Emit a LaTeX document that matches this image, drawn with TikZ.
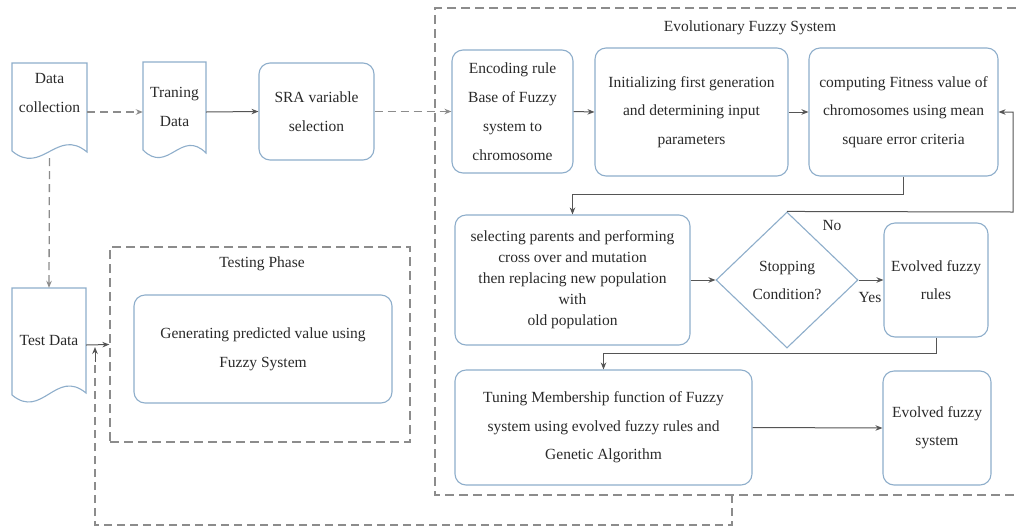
\documentclass[tikz,border=0pt]{standalone}
\usepackage{fontspec}
\setmainfont{Liberation Serif}
\newfontfamily\tms{Liberation Serif}
\usetikzlibrary{shapes.geometric,arrows.meta}
\definecolor{bx}{HTML}{8EAECB}
\definecolor{ln}{HTML}{555555}
\definecolor{dsh}{HTML}{8C8C8C}
\definecolor{tx}{HTML}{2A2A2A}
\begin{document}
\begin{tikzpicture}[x=1pt,y=-1pt,
  font=\tms\fontsize{15.5}{29}\selectfont, text=tx,
  box/.style={draw=bx, line width=1.1pt, rounded corners=11pt, align=center, inner sep=0pt},
  docl/.style={draw=bx, line width=1.1pt},
  ghost/.style={draw=none, inner sep=0pt},
  txt/.style={align=center, inner sep=0pt},
  conn/.style={draw=ln, line width=1pt, -{Stealth[length=7pt,width=5.5pt]}},
  dconn/.style={draw=dsh, line width=1.3pt, dash pattern=on 8pt off 5pt, -{Stealth[length=7pt,width=5.5pt]}},
  dline/.style={draw=dsh, line width=1.3pt, dash pattern=on 8pt off 5pt},
  frame/.style={draw=dsh, line width=1.3pt, dash pattern=on 9pt off 5pt}]
\useasboundingbox[fill=white] (0,0) rectangle (1016,528);

% ---------- document shapes ----------
\draw[docl] (12,151) -- (12,63) -- (87,63) -- (87,152) .. controls (57,127) and (42,176) .. (12,151);
\node[ghost, minimum width=75pt, minimum height=98pt] (dcb) at (49.5,112) {};
\node[txt] (dct) at (49.5,93) {Data\\collection};

\draw[docl] (143,150) -- (143,62) -- (206,62) -- (206,153) .. controls (181,128) and (168,175) .. (143,150);
\node[ghost, minimum width=63pt, minimum height=100pt] (trb) at (174.5,112) {};
\node[txt] (trt) at (174.5,107) {Traning\\Data};

\draw[docl] (12,395) -- (12,288) -- (86,288) -- (86,393) .. controls (56,368) and (42,420) .. (12,395);
\node[ghost, minimum width=74pt, minimum height=114pt] (tdb) at (49,345) {};
\node[txt] (tdt) at (49,340) {Test Data};

% ---------- left boxes ----------
\node[box, minimum width=115pt, minimum height=97pt] (sra) at (316.5,111.5) {SRA variable\\selection};

% testing phase frame
\node[frame, minimum width=300pt, minimum height=195pt, inner sep=0pt] (testing) at (260,344.5) {};
\node[txt] (testt) at (262,264) {Testing Phase};
\node[box, minimum width=258pt, minimum height=108pt] (gen) at (263,349) {Generating predicted value using\\Fuzzy System};

% ---------- evolutionary frame ----------
\draw[frame] (1030,8) -- (435,8) -- (435,495) -- (1030,495);
\node[txt] (evot) at (750,28) {Evolutionary Fuzzy System};

\node[box, minimum width=121pt, minimum height=123pt] (enc) at (512.5,111.5) {Encoding rule\\Base of Fuzzy\\system to\\chromosome};
\node[box, minimum width=193pt, minimum height=128pt, font=\tms\fontsize{15.5}{28.5}\selectfont] (init) at (691.5,112) {Initializing first generation\\and determining input\\parameters};
\node[box, minimum width=189pt, minimum height=128pt, font=\tms\fontsize{15.5}{28.5}\selectfont] (comp) at (903.5,112) {computing Fitness value of\\chromosomes using mean\\square error criteria};
\node[box, minimum width=235pt, minimum height=130pt, font=\tms\fontsize{15.5}{21}\selectfont] (sel) at (572.5,280) {selecting parents and performing\\cross over and mutation\\then replacing new population\\with\\old population};
\node[draw=bx, line width=1.1pt, diamond, aspect=1.04, minimum width=142pt, minimum height=136pt, inner sep=0pt, align=center, font=\tms\fontsize{15.5}{28}\selectfont] (dia) at (787,280) {Stopping\\Condition?};
\node[box, minimum width=104pt, minimum height=114pt, font=\tms\fontsize{15.5}{28}\selectfont] (rules) at (936,280) {Evolved fuzzy\\rules};
\node[box, minimum width=297pt, minimum height=115pt, font=\tms\fontsize{15.5}{28.5}\selectfont] (tun) at (603.5,427.5) {Tuning Membership function of Fuzzy\\system using evolved fuzzy rules and\\Genetic Algorithm};
\node[box, minimum width=108pt, minimum height=114pt, font=\tms\fontsize{15.5}{28}\selectfont] (sys) at (937,428) {Evolved fuzzy\\system};

\node[txt] (nolab) at (832,225) {No};
\node[txt] (yeslab) at (870,297) {Yes};

% ---------- connectors ----------
\coordinate (dcs) at (49.5,158);
\draw[dconn] (dcb.east) -- (trb.west);
\draw[conn] (trb.east) -- (sra.west);
\draw[dconn] (sra.east) -- (enc.west);
\draw[conn] (enc.east) -- (init.west);
\draw[conn] (init.east) -- (comp.west);
\draw[conn] (comp.south) -- ++(0,18) -| (sel.north);
\draw[conn] (sel.east) -- (dia.west);
\coordinate (rtop) at (1013,212);
\draw[conn] (dia.north) -- (rtop) |- (comp.east);
\draw[conn] (dia.east) -- (rules.west);
\draw[conn] (rules.south) -- ++(0,16) -| (tun.north);
\draw[conn] (tun.east) -- (sys.west);
\draw[dconn] (dcs) -- (tdb.north);
\draw[conn] (tdb.east) -- (testing.west);
\coordinate (fbs) at (732,495);
\coordinate (fbe) at (95,347);
\draw[dline] (fbs) -- (732,525) -- (95,525) -- (95,360);
\draw[conn] (95,362) -- (fbe);
\end{tikzpicture}
\end{document}
